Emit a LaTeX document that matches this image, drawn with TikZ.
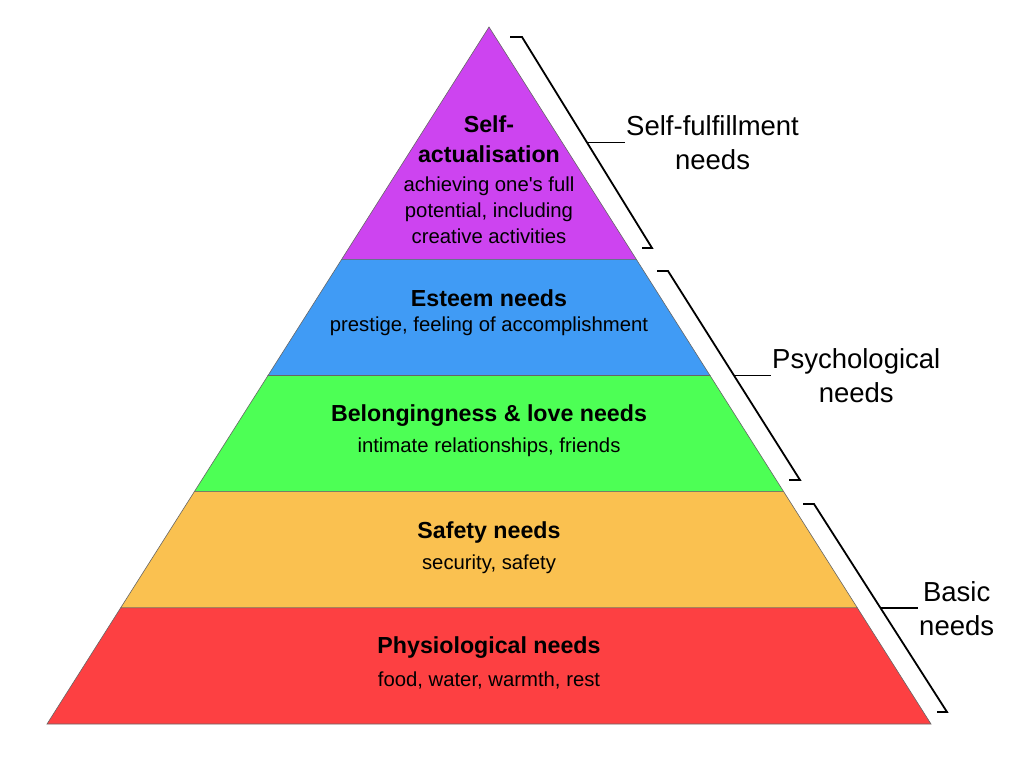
\documentclass[tikz,border=0pt]{standalone}
\usepackage{fontspec}
\setmainfont{Liberation Sans}
\usetikzlibrary{calc}

\definecolor{selfpurple}{RGB}{205,68,240}
\definecolor{esteemblue}{RGB}{64,155,245}
\definecolor{lovegreen}{RGB}{77,255,85}
\definecolor{safetyyellow}{RGB}{250,193,80}
\definecolor{physred}{RGB}{253,64,66}

\begin{document}
\begin{tikzpicture}[x=1pt,y=-1pt,
  band/.style={draw=black!60,line width=0.6pt},
  brace/.style={line width=1.8pt},
  title/.style={font=\fontsize{23.2}{30}\selectfont\bfseries,align=center,inner sep=0pt},
  desc/.style={font=\fontsize{20.3}{26}\selectfont,align=center,inner sep=0pt},
  side/.style={font=\fontsize{27.5}{34}\selectfont,align=center,anchor=west,inner sep=1pt}]
\path (0,0) rectangle (1024,766);
% pyramid corners and band edges
\coordinate (apex) at (489,27);
\coordinate (bl) at (47,724);
\coordinate (br) at (931,724);
\coordinate (l1) at ($(apex)!1/3!(bl)$);
\coordinate (r1) at ($(apex)!1/3!(br)$);
\coordinate (l2) at ($(apex)!1/2!(bl)$);
\coordinate (r2) at ($(apex)!1/2!(br)$);
\coordinate (l3) at ($(apex)!2/3!(bl)$);
\coordinate (r3) at ($(apex)!2/3!(br)$);
\coordinate (l4) at ($(apex)!5/6!(bl)$);
\coordinate (r4) at ($(apex)!5/6!(br)$);
\filldraw[band,fill=selfpurple] (apex) -- (r1) -- (l1) -- cycle;
\filldraw[band,fill=esteemblue] (l1) -- (r1) -- (r2) -- (l2) -- cycle;
\filldraw[band,fill=lovegreen] (l2) -- (r2) -- (r3) -- (l3) -- cycle;
\filldraw[band,fill=safetyyellow] (l3) -- (r3) -- (r4) -- (l4) -- cycle;
\filldraw[band,fill=physred] (l4) -- (r4) -- (br) -- (bl) -- cycle;
% band texts
\node[title] (selfact) at (489,139) {Self-\\actualisation};
\node[desc] (selfact-desc) at (489,210) {achieving one\textquotesingle s full\\potential, including\\creative activities};
\node[title] (esteem) at (489,298) {Esteem needs};
\node[desc] (esteem-desc) at (489,326) {prestige, feeling of accomplishment};
\node[title] (belong) at (489,416) {Belongingness \& love needs};
\node[desc] (belong-desc) at (489,447) {intimate relationships, friends};
\node[title] (safety) at (489,532) {Safety needs};
\node[desc] (safety-desc) at (489,564) {security, safety};
\node[title] (physio) at (489,648) {Physiological needs};
\node[desc] (physio-desc) at (489,680) {food, water, warmth, rest};
% brackets
\coordinate (b1top) at (522,37);
\coordinate (b1bot) at (652,248);
\coordinate (b2top) at (668,271);
\coordinate (b2bot) at (800,480);
\coordinate (b3top) at (814,504);
\coordinate (b3bot) at (947,712);
\draw[brace] ($(b1top)+(-12,0)$) -- (b1top) -- (b1bot) -- ($(b1bot)+(-10,0)$);
\draw[brace] ($(b2top)+(-11,0)$) -- (b2top) -- (b2bot) -- ($(b2bot)+(-11,0)$);
\draw[brace] ($(b3top)+(-11,0)$) -- (b3top) -- (b3bot) -- ($(b3bot)+(-10,0)$);
\coordinate (b1mid) at ($(b1top)!0.5!(b1bot)$);
\coordinate (b2mid) at ($(b2top)!0.5!(b2bot)$);
\coordinate (b3mid) at ($(b3top)!0.5!(b3bot)$);
\node[side] (fulfil) at (625,143) {Self-fulfillment\\needs};
\node[side] (psych) at (771,376) {Psychological\\needs};
\node[side] (basic) at (918,609) {Basic\\needs};
\draw[brace] (b1mid) -- (b1mid -| fulfil.west);
\draw[brace] (b2mid) -- (b2mid -| psych.west);
\draw[brace] (b3mid) -- (b3mid -| basic.west);
\end{tikzpicture}
\end{document}
